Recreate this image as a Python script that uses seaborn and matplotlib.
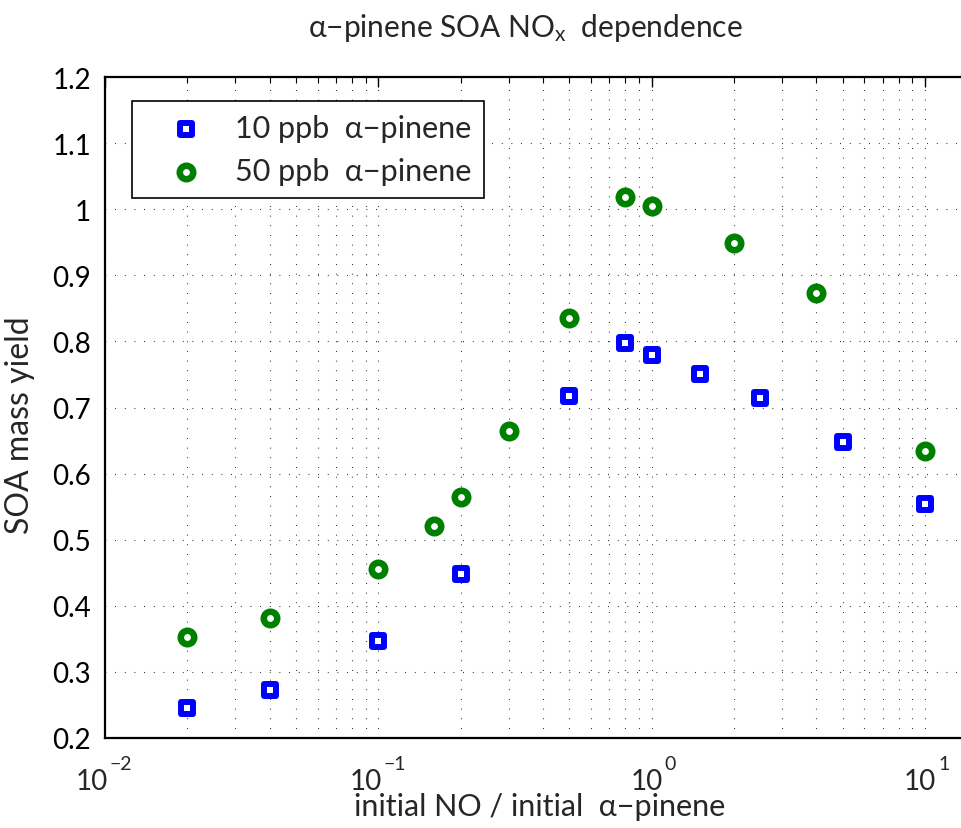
import numpy as np
import pandas as pd
import matplotlib
matplotlib.use("Agg")
import matplotlib.pyplot as plt
import matplotlib.transforms as mtrans
import seaborn as sns
from matplotlib.ticker import LogLocator, FixedLocator, NullFormatter

# ---- data ----
x_10ppb = [0.02, 0.04, 0.1, 0.2, 0.5, 0.8, 1.0, 1.5, 2.5, 5.0, 10.0]
y_10ppb = [0.245, 0.273, 0.347, 0.448, 0.717, 0.798, 0.780, 0.751, 0.715, 0.648, 0.554]
x_50ppb = [0.02, 0.04, 0.1, 0.16, 0.2, 0.3, 0.5, 0.8, 1.0, 2.0, 4.0, 10.0]
y_50ppb = [0.353, 0.382, 0.456, 0.521, 0.565, 0.664, 0.835, 1.018, 1.005, 0.949, 0.873, 0.634]
label_10 = "10 ppb  α−pinene"
label_50 = "50 ppb  α−pinene"
y_ticks = [0.2, 0.3, 0.4, 0.5, 0.6, 0.7, 0.8, 0.9, 1.0, 1.1, 1.2]
y_ticklabels = ["0.2", "0.3", "0.4", "0.5", "0.6", "0.7", "0.8", "0.9", "1", "1.1", "1.2"]
x_decades = [0.01, 0.1, 1.0, 10.0]
x_exponents = ["−2", "−1", "0", "1"]

df10 = pd.DataFrame({"x": x_10ppb, "y": y_10ppb})
df50 = pd.DataFrame({"x": x_50ppb, "y": y_50ppb})

sns.set_style("white")
FONT = ["Lato", "DejaVu Sans"]
plt.rcParams["font.family"] = FONT
plt.rcParams["mathtext.fontset"] = "custom"
plt.rcParams["mathtext.rm"] = "Lato"
plt.rcParams["mathtext.it"] = "Lato"

W, H = 961, 829
fig = plt.figure(figsize=(W / 100, H / 100), dpi=100)
left, right, top, bottom = 105, 961, 78, 739
aw, ah = right - left, bottom - top
ax = fig.add_axes([left / W, 1 - bottom / H, aw / W, ah / H])

blue = (0, 0, 1)
green = (0, 0.5, 0)
sns.scatterplot(data=df10, x="x", y="y", ax=ax, marker="s", s=8.6 ** 2,
                facecolor="white", edgecolor=blue, linewidth=4.3, label=label_10, zorder=3)
sns.scatterplot(data=df50, x="x", y="y", ax=ax, marker="o", s=9.7 ** 2,
                facecolor="white", edgecolor=green, linewidth=4.7, label=label_50, zorder=3)

ax.set_xscale("log")
xmax = 10 ** (1 + (961 - 925) / 273.3)
ax.set_xlim(0.01, xmax)
ax.set_ylim(0.2, 1.2)
ax.yaxis.set_major_locator(FixedLocator(y_ticks))
ax.set_yticklabels(y_ticklabels)
ax.xaxis.set_major_locator(FixedLocator(x_decades))
ax.xaxis.set_major_formatter(NullFormatter())
ax.xaxis.set_minor_locator(LogLocator(base=10, subs=np.arange(2, 10), numticks=20))
ax.xaxis.set_minor_formatter(NullFormatter())

for side in ["left", "top", "bottom"]:
    ax.spines[side].set_color("black")
    ax.spines[side].set_linewidth(1.6)
ax.spines["right"].set_visible(False)

ax.tick_params(axis="both", which="major", direction="in", length=7, width=1.0,
               labelsize=20, pad=10, top=True, right=False, colors="black")
ax.tick_params(axis="x", which="major", labelbottom=False)
ax.tick_params(axis="x", which="minor", direction="in", length=4, width=0.8,
               top=True, colors="black")

grid_kw = dict(color="black", linestyle=(0, (0.7, 8)), linewidth=0.8)
ax.grid(True, which="major", axis="both", **grid_kw)
ax.grid(True, which="minor", axis="x", **grid_kw)
ax.set_axisbelow(True)

# x tick labels in MATLAB style: "10" with a raised exponent
base_tr = mtrans.blended_transform_factory(ax.transData, ax.transAxes)
for xv, ex in zip(x_decades, x_exponents):
    shift = -13 if len(ex) > 1 else -5
    t10 = mtrans.offset_copy(base_tr, fig=fig, x=shift, y=-51, units="dots")
    ax.text(xv, 0, "10", transform=t10, ha="center", va="baseline",
            fontsize=20, clip_on=False)
    tex = mtrans.offset_copy(base_tr, fig=fig, x=shift + 18, y=-31, units="dots")
    ax.text(xv, 0, ex, transform=tex, ha="left", va="baseline",
            fontsize=14, clip_on=False)

ax.set_xlabel("initial NO / initial  α−pinene", fontsize=22)
ax.xaxis.set_label_coords((540 - left) / aw, -0.082)
ax.set_ylabel("SOA mass yield", fontsize=23)
ax.yaxis.set_label_coords(-0.082, 0.475)
ax.set_title("α−pinene SOA NO$_{\\mathrm{x}}$  dependence", fontsize=21.5,
             x=(525 - left) / aw, y=1 + (top - 37) / ah, va="baseline", pad=0)

leg = ax.legend(loc="upper left",
                bbox_to_anchor=((132 - left) / aw, 1 - (102 - top) / ah),
                frameon=True, fancybox=False, framealpha=1, edgecolor="black",
                fontsize=22, borderpad=0.42, handletextpad=0.25, labelspacing=0.5,
                borderaxespad=0, handlelength=2.7)
leg.get_frame().set_linewidth(1.2)

fig.savefig("out.png", dpi=100)
